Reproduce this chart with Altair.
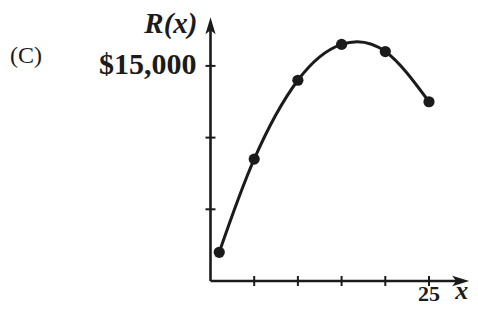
import altair as alt
import pandas as pd

# ---- data ----
x_vals = [1, 5, 10, 15, 20, 25]
revenue = [2000, 8500, 14000, 16500, 16000, 12500]
x_ticks = [5, 10, 15, 20, 25]
y_ticks = [5000, 10000, 15000]
x_tick_label_vals = [25]
x_tick_label_text = ["25"]
y_tick_label_vals = [15000]
y_tick_label_text = ["$15,000"]
panel_label = "(C)"
y_title = "R(x)"
x_title = "x"

# ---- layout ----
W, H = 462, 298
X0_PX, Y0_PX = 202.5, 273.0          # where x=0 and y=0 fall in the view
PX_PER_X = 8.74
PX_PER_Y = 0.01434
X_TIP = 29.6                          # x-axis arrow tip (data units)
Y_TIP = 18400                         # y-axis arrow tip (data units)
ARROW_LEN = 17                        # px
INK = "#1b1b1b"
FONT = "Liberation Serif"

x_dom = [-X0_PX / PX_PER_X, (W - X0_PX) / PX_PER_X]
y_dom = [-(H - Y0_PX) / PX_PER_Y, Y0_PX / PX_PER_Y]
xs = alt.Scale(domain=x_dom, nice=False, zero=False)
ys = alt.Scale(domain=y_dom, nice=False, zero=False)


def X(f):
    return alt.X(f, type="quantitative", scale=xs, axis=None)


def Y(f):
    return alt.Y(f, type="quantitative", scale=ys, axis=None)


curve_df = pd.DataFrame({"x": x_vals, "R": revenue})

x_arrow_c = X_TIP - (ARROW_LEN / 2) / PX_PER_X
y_arrow_c = Y_TIP - (ARROW_LEN / 2) / PX_PER_Y

x_axis = alt.Chart(pd.DataFrame({"x": [0], "x2": [x_arrow_c], "y": [0]})).mark_rule(
    color=INK, strokeWidth=2.6, strokeCap="butt"
).encode(x=X("x"), x2="x2", y=Y("y"))

y_axis = alt.Chart(pd.DataFrame({"x": [0], "y": [0], "y2": [y_arrow_c]})).mark_rule(
    color=INK, strokeWidth=2.6, strokeCap="butt"
).encode(x=X("x"), y=Y("y"), y2="y2")

right_arrow = alt.Chart(pd.DataFrame({"x": [x_arrow_c], "y": [0]})).mark_point(
    shape="M1,0L-1,-0.62L-0.55,0L-1,0.62Z", filled=True, size=ARROW_LEN ** 2,
    color=INK, opacity=1, strokeWidth=0
).encode(x=X("x"), y=Y("y"))

up_arrow = alt.Chart(pd.DataFrame({"x": [0], "y": [y_arrow_c]})).mark_point(
    shape="M0,-1L0.6,1L0,0.55L-0.6,1Z", filled=True, size=ARROW_LEN ** 2,
    color=INK, opacity=1, strokeWidth=0
).encode(x=X("x"), y=Y("y"))

xticks = alt.Chart(pd.DataFrame({"x": x_ticks, "y": [0] * len(x_ticks)})).mark_tick(
    orient="vertical", size=10, thickness=2, color=INK, opacity=1
).encode(x=X("x"), y=Y("y"))

yticks = alt.Chart(pd.DataFrame({"x": [0] * len(y_ticks), "y": y_ticks})).mark_tick(
    orient="horizontal", size=10, thickness=2, color=INK, opacity=1
).encode(x=X("x"), y=Y("y"))

line = alt.Chart(curve_df).mark_line(
    interpolate="natural", color=INK, strokeWidth=3
).encode(x=X("x"), y=Y("R"))

dots = alt.Chart(curve_df).mark_circle(size=125, color=INK, opacity=1).encode(
    x=X("x"), y=Y("R")
)

xlab = alt.Chart(pd.DataFrame({"x": x_tick_label_vals, "y": [0] * len(x_tick_label_vals),
                               "t": x_tick_label_text})).mark_text(
    font=FONT, fontWeight="bold", fontSize=22, color=INK, align="center",
    baseline="alphabetic", dy=20
).encode(x=X("x"), y=Y("y"), text="t:N")

ylab = alt.Chart(pd.DataFrame({"x": [0] * len(y_tick_label_vals), "y": y_tick_label_vals,
                               "t": y_tick_label_text})).mark_text(
    font=FONT, fontWeight="bold", fontSize=30, color=INK, align="right",
    baseline="alphabetic", dx=-14, dy=8
).encode(x=X("x"), y=Y("y"), text="t:N")

ytitle = alt.Chart(pd.DataFrame({"x": [0], "y": [Y_TIP], "t": [y_title]})).mark_text(
    font=FONT, fontWeight="bold", fontStyle="italic", fontSize=29, color=INK,
    align="right", baseline="alphabetic", dx=-13, dy=16
).encode(x=X("x"), y=Y("y"), text="t:N")

xtitle = alt.Chart(pd.DataFrame({"x": [X_TIP], "y": [0], "t": [x_title]})).mark_text(
    font=FONT, fontWeight="bold", fontStyle="italic", fontSize=26, color=INK,
    align="right", baseline="alphabetic", dx=-1, dy=18
).encode(x=X("x"), y=Y("y"), text="t:N")

panel = alt.Chart(pd.DataFrame({"t": [panel_label]})).mark_text(
    font=FONT, fontSize=24, color=INK, align="left", baseline="alphabetic"
).encode(x=alt.value(2), y=alt.value(55), text="t:N")

chart = alt.layer(
    x_axis, y_axis, right_arrow, up_arrow, xticks, yticks, line, dots,
    xlab, ylab, ytitle, xtitle, panel
).properties(
    width=W, height=H, autosize=alt.AutoSizeParams(type="none"), padding=0,
    background="white"
).configure_view(stroke=None)

chart.save("out.html", embed_options={"renderer": "svg", "actions": False})
